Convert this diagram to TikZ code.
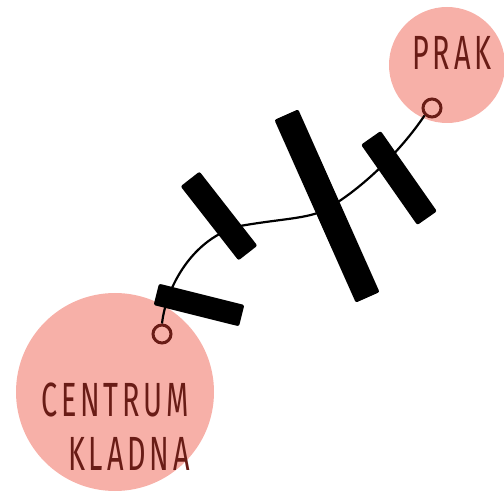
\documentclass[tikz,border=0pt]{standalone}
\usepackage{fontspec}
\newfontfamily\handfont[FakeStretch=0.6,LetterSpace=8]{Fira Sans}
\usepackage{tikz}

\begin{document}
\begin{tikzpicture}[x = 1pt, y = -1pt]
            % \draw [help lines,step = 50] (0,0) grid (504,497);
            \useasboundingbox (0,0) rectangle (504,497);

            \definecolor{townColor}{RGB}{247,176,168};
            \definecolor{inkColor}{RGB}{105,28,22};

            \tikzset{
                town/.style = {circle, fill = townColor, inner sep = 0pt},
                stop/.style = {circle, draw = inkColor, line width = 3pt, minimum size = 18pt, inner sep = 0pt},
                bar/.style = {fill = black, rounded corners = 2pt, inner sep = 0pt},
                wire/.style = {black, line width = 2.2pt},
                townText/.style = {inkColor, font = \handfont\fontsize{48}{50}\selectfont, inner sep = 0pt}
            }

            % the two towns
            \node [town, minimum size = 198pt] (centrum) at (115,392) {};
            \node [town, minimum size = 116pt] (prak) at (447,65) {};

            \node [townText] (centrumText) at (115,400) {CENTRUM};
            \node [townText] (kladnaText) at (129,454) {KLADNA};
            \node [townText] (prakText) at (452,53) {PRAK};

            % the stops
            \node [stop] (centrumStop) at (162,334) {};
            \node [stop] (prakStop) at (432,108) {};

            % the line between them
            \draw [wire] (centrumStop.north) .. controls (166,288) and (192,238) .. (240,226)
                .. controls (285,218) and (312,219) .. (330,207)
                .. controls (362,188) and (400,152) .. (prakStop.south west);

            % the bars across the line
            \node [bar, minimum width = 88pt, minimum height = 22pt, rotate = -14] (barA) at (199,305) {};
            \node [bar, minimum width = 94pt, minimum height = 24pt, rotate = -52] (barB) at (219,216) {};
            \node [bar, minimum width = 200pt, minimum height = 26pt, rotate = -66] (barC) at (327,206) {};
            \node [bar, minimum width = 98pt, minimum height = 24pt, rotate = -55] (barD) at (399,178) {};

\end{tikzpicture}
\end{document}
